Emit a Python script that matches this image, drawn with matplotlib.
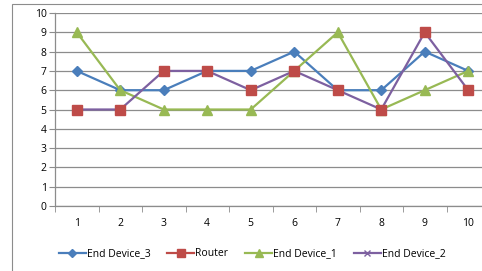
import matplotlib
matplotlib.use("Agg")
import matplotlib.pyplot as plt
from matplotlib.patches import Rectangle

categories = [1, 2, 3, 4, 5, 6, 7, 8, 9, 10]
end_device_3 = [7, 6, 6, 7, 7, 8, 6, 6, 8, 7]
router = [5, 5, 7, 7, 6, 7, 6, 5, 9, 6]
end_device_1 = [9, 6, 5, 5, 5, 7, 9, 5, 6, 7]
end_device_2 = [5, 5, 7, 7, 6, 7, 6, 5, 9, 6]

plt.rcParams['font.family'] = ['Open Sans', 'DejaVu Sans']

fig = plt.figure(figsize=(4.82, 2.71), dpi=100)
W, H = 482, 271

# chart area border (cropped on right / bottom)
fig.patches.append(Rectangle((12 / W, -0.1), 1.2, 1 - 3.5 / H + 0.1,
                             transform=fig.transFigure, fill=False,
                             edgecolor='#8c8c8c', linewidth=0.8))

ax = fig.add_axes([55 / W, 1 - 206 / H, 435 / W, 193 / H])
ax.set_xlim(0.5, 10.5)
ax.set_ylim(0, 10)
ax.set_yticks(range(0, 11))
ax.set_xticks(categories)
ax.set_xticks([c + 0.5 for c in [0] + categories], minor=True)
ax.yaxis.grid(True, color='#8c8c8c', linewidth=0.9)
ax.set_axisbelow(True)
for s in ['top', 'right']:
    ax.spines[s].set_visible(False)
for s in ['left', 'bottom']:
    ax.spines[s].set_color('#8c8c8c')
    ax.spines[s].set_linewidth(0.9)
ax.tick_params(axis='y', length=4, color='#8c8c8c', labelsize=7.5, pad=2)
ax.tick_params(axis='x', which='major', length=0, labelsize=7.5, pad=9)
ax.tick_params(axis='x', which='minor', length=4, color='#8c8c8c')

l3, = ax.plot(categories, end_device_3, color='#4a7ebb', marker='D', markersize=5,
              linewidth=1.6, label='End Device_3', clip_on=False)
l2, = ax.plot(categories, end_device_2, color='#7d60a0', marker='x', markersize=5,
              linewidth=1.6, label='End Device_2', clip_on=False, zorder=2.1)
lr, = ax.plot(categories, router, color='#be4b48', marker='s', markersize=6.5,
              linewidth=0, label='Router', clip_on=False, zorder=2.2)
lr_leg, = ax.plot([], [], color='#be4b48', marker='s', markersize=6.5, linewidth=1.6)
l1, = ax.plot(categories, end_device_1, color='#98b954', marker='^', markersize=6.5,
              linewidth=1.6, label='End Device_1', clip_on=False, zorder=2.05)

fig.legend([l3, lr_leg, l1, l2], ['End Device_3', 'Router', 'End Device_1', 'End Device_2'],
           loc='center', bbox_to_anchor=(252 / W, 1 - 254 / H), ncol=4, frameon=False,
           fontsize=7.5, handlelength=2.6, handletextpad=0.1, columnspacing=1.6,
           markerscale=0.8)

fig.savefig('out.png', dpi=100)
